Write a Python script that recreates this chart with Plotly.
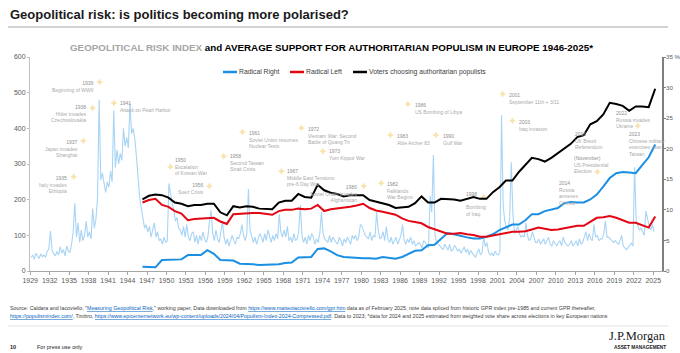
import plotly.graph_objects as go

# ---------------- text ----------------
title_text = "Geopolitical risk: is politics becoming more polarised?"
subtitle_gray = "GEOPOLITICAL RISK INDEX"
subtitle_black = " and AVERAGE SUPPORT FOR AUTHORITARIAN POPULISM IN EUROPE 1946-2025*"
series_names = ["Radical Right", "Radical Left", "Voters choosing authoritarian populists"]

# ---------------- GPR index (quarterly, from 1929 Q1) ----------------
gpr_start_year = 1929
gpr_quarterly = [
    38, 45, 33, 50,      # 1929
    42, 35, 48, 40,      # 1930
    45, 38, 55, 62,      # 1931
    112, 58, 48, 42,     # 1932
    55, 45, 68, 50,      # 1933
    60, 42, 70, 55,      # 1934
    52, 75, 110, 190,    # 1935
    95, 135, 80, 115,    # 1936
    85, 100, 140, 95,    # 1937
    110, 90, 175, 120,   # 1938
    145, 205, 480, 255,  # 1939
    275, 240, 220, 250,  # 1940
    235, 280, 250, 450,  # 1941
    290, 340, 300, 330,  # 1942
    310, 400, 350, 375,  # 1943
    345, 470, 385, 400,  # 1944
    370, 320, 260, 205,  # 1945
    175, 140, 120, 130,  # 1946
    110, 125, 95, 115,   # 1947
    135, 95, 110, 85,    # 1948
    90, 75, 95, 80,      # 1949
    85, 245, 210, 190,   # 1950
    170, 140, 150, 120,  # 1951
    115, 100, 125, 95,   # 1952
    130, 95, 85, 105,    # 1953
    110, 80, 100, 75,    # 1954
    100, 85, 110, 90,    # 1955
    80, 95, 140, 170,    # 1956
    105, 85, 115, 90,    # 1957
    80, 115, 140, 95,    # 1958
    75, 90, 70, 85,      # 1959
    100, 85, 75, 95,     # 1960
    90, 105, 130, 100,   # 1961
    85, 105, 230, 115,   # 1962
    100, 80, 95, 75,     # 1963
    90, 105, 95, 80,     # 1964
    105, 85, 115, 95,    # 1965
    80, 100, 85, 105,    # 1966
    90, 160, 110, 95,    # 1967
    115, 95, 125, 85,    # 1968
    95, 80, 105, 85,     # 1969
    90, 110, 185, 100,   # 1970
    80, 95, 75, 100,     # 1971
    85, 105, 95, 75,     # 1972
    90, 80, 105, 166,    # 1973
    105, 90, 85, 80,     # 1974
    100, 80, 95, 85,     # 1975
    80, 75, 95, 85,      # 1976
    70, 90, 80, 95,      # 1977
    85, 75, 100, 90,     # 1978
    100, 85, 95, 130,    # 1979
    125, 110, 100, 95,   # 1980
    90, 110, 85, 100,    # 1981
    95, 165, 115, 90,    # 1982
    95, 110, 85, 125,    # 1983
    90, 80, 95, 75,      # 1984
    85, 95, 75, 90,      # 1985
    100, 130, 85, 75,    # 1986
    90, 80, 95, 75,      # 1987
    85, 70, 75, 80,      # 1988
    75, 65, 85, 80,      # 1989
    70, 65, 210, 165,    # 1990
    325, 100, 80, 75,    # 1991
    70, 65, 60, 75,      # 1992
    65, 58, 75, 55,      # 1993
    60, 72, 65, 55,      # 1994
    62, 50, 58, 68,      # 1995
    52, 62, 45, 58,      # 1996
    50, 42, 38, 52,      # 1997
    62, 45, 52, 95,      # 1998
    68, 80, 52, 45,      # 1999
    50, 42, 55, 48,      # 2000
    45, 52, 437, 185,    # 2001
    140, 125, 115, 150,  # 2002
    305, 160, 105, 115,  # 2003
    125, 105, 95, 100,   # 2004
    95, 135, 100, 85,    # 2005
    90, 110, 95, 80,     # 2006
    80, 90, 75, 85,      # 2007
    90, 75, 85, 95,      # 2008
    75, 70, 85, 75,      # 2009
    70, 80, 85, 70,      # 2010
    95, 80, 75, 70,      # 2011
    75, 85, 70, 80,      # 2012
    85, 70, 90, 75,      # 2013
    80, 95, 110, 85,     # 2014
    105, 90, 85, 130,    # 2015
    95, 100, 85, 90,     # 2016
    90, 105, 140, 95,    # 2017
    95, 90, 85, 80,      # 2018
    85, 80, 75, 85,      # 2019
    100, 70, 65, 60,     # 2020
    65, 72, 78, 70,      # 2021
    290, 140, 125, 115,  # 2022
    120, 110, 100, 168,  # 2023
    140, 125, 115, 130,  # 2024
    110,                 # 2025
]

# ---------------- Populism support (% , annual 1946-2025) ----------------
pop_years = list(range(1946, 2026))
radical_right = [
    0.7, 0.6, 0.6, 1.8, 1.8, 1.8, 1.9, 2.6, 2.6, 2.6,
    3.4, 2.8, 1.8, 1.8, 1.7, 1.2, 1.2, 1.1, 1.0, 1.0,
    1.0, 1.1, 1.3, 1.4, 2.2, 2.3, 2.3, 3.6, 3.7, 3.2,
    2.6, 2.3, 2.2, 2.2, 2.1, 2.1, 2.0, 2.3, 2.1, 2.0,
    2.3, 2.8, 3.3, 3.4, 4.2, 4.3, 5.3, 6.2, 6.0, 5.7,
    5.5, 5.3, 5.3, 5.6, 6.0, 6.7, 7.2, 7.6, 7.6, 8.3,
    9.3, 9.3, 9.8, 10.0, 10.3, 11.1, 11.3, 11.2, 11.2, 11.7,
    12.5, 13.8, 15.2, 16.0, 16.2, 16.1, 16.0, 17.3, 18.6, 20.7,
]
radical_left = [
    11.2, 11.6, 11.8, 10.8, 10.5, 9.8, 9.4, 8.3, 8.5, 8.6,
    8.6, 8.7, 8.1, 7.7, 9.3, 9.4, 9.5, 9.5, 9.5, 9.3,
    9.2, 9.8, 10.0, 10.0, 10.2, 10.1, 10.2, 10.8, 9.8, 10.1,
    10.2, 10.3, 10.5, 10.7, 11.0, 10.3, 9.9, 9.7, 9.5, 9.2,
    8.6, 8.2, 8.0, 7.8, 7.2, 6.8, 6.4, 6.1, 6.1, 6.2,
    6.0, 5.9, 5.6, 5.6, 5.8, 6.0, 6.3, 6.4, 6.4, 6.5,
    6.8, 7.1, 6.9, 6.7, 6.8, 7.0, 7.2, 7.4, 7.4, 8.0,
    8.7, 8.8, 9.0, 8.7, 8.3, 7.9, 7.9, 7.5, 7.1, 8.9,
]
authoritarian_total = [
    11.7, 12.3, 12.5, 12.4, 12.0, 11.2, 11.0, 10.6, 10.8, 10.8,
    11.0, 11.0, 9.6, 9.1, 10.6, 10.4, 10.6, 10.5, 10.2, 10.1,
    10.1, 11.2, 11.5, 11.5, 12.6, 12.1, 12.0, 14.1, 13.2, 12.8,
    12.6, 12.2, 12.4, 12.4, 12.4, 11.6, 11.3, 11.0, 10.8, 10.3,
    10.4, 10.5, 11.1, 12.2, 11.2, 11.2, 11.8, 11.8, 11.7, 11.5,
    11.8, 12.1, 11.8, 11.8, 12.9, 13.7, 14.8, 14.8, 16.2, 17.3,
    18.5, 18.3, 17.9, 18.5, 19.3, 20.0, 20.8, 21.9, 22.2, 24.0,
    24.5, 25.6, 27.5, 27.3, 27.0, 26.2, 26.9, 26.9, 26.8, 29.8,
]

# ---------------- axis ticks ----------------
x_tick_years = list(range(1929, 2026, 3))
left_ticks = [0, 100, 200, 300, 400, 500, 600]
right_ticks = [0, 5, 10, 15, 20, 25, 30, 35]
right_tick_text = ["0", "5", "10", "15", "20", "25", "30", "35 %"]

# ---------------- events ----------------
event_years = ["1939", "1938", "1941", "1937", "1935", "1950", "1956", "1958", "1961",
               "1967", "1972", "1973", "1980", "1982", "1983", "1986", "1990", "1998",
               "2001", "2003", "2016", "(November)", "2014", "2022", "2023"]
event_texts = ["Beginning of WWII", "Hitler invades<br>Czechoslovakia", "Attack on Pearl Harbor",
               "Japan invades<br>Shanghai", "Italy invades<br>Ethiopia", "Escalation<br>of Korean War",
               "Suez Crisis", "Second Taiwan<br>Strait Crisis", "Soviet Union resumes<br>Nuclear Tests",
               "Middle East Tensions<br>pre-6 Day War", "Vietnam War: Second<br>Battle of Quang Tri",
               "Yom Kippur War", "Soviet Union invades<br>Afghanistan", "Falklands<br>War Begins",
               "Able Archer 83", "US Bombing of Libya", "Gulf War", "<br>Bombing<br>of Iraq",
               "September 11th + 3/11", "Iraq invasion", "UK Brexit<br>Referendum",
               "US Presidential<br>Election", "Russia<br>annexes<br>Crimea", "Russia invades<br>Ukraine",
               "Chinese military<br>exercises near<br>Taiwan"]
# layout positions of event labels (x in years, y in index units) and text offsets (px)
event_pos_x = [1939.7, 1938.6, 1941.9, 1937.2, 1935.7, 1950.6, 1956.6, 1958.8, 1961.7,
               1967.7, 1970.8, 1974.1, 1980.4, 1983.1, 1984.5, 1987.2, 1991.5, 1998.9,
               2001.8, 2003.3, 2012.0, 2016.4, 2009.6, 2022.6, 2020.4]
event_pos_y = [530, 457, 471, 365, 264, 292, 238, 322, 390,
               280, 401, 336, 238, 247, 381, 468, 381, 207,
               496, 421, 387, 278, 250, 407, 387]
event_anchor = ["right", "right", "left", "right", "right", "left", "right", "left", "left",
                "left", "left", "left", "right", "left", "left", "left", "left", "left",
                "left", "left", "left", "left", "left", "left", "left"]
event_dx = [-5, -5, 5, -4, -6, 4, -4, 5, 6, 5, 6, 5, -6, 5, 6, 6, 6, -19, 5, 6, 5, -24, 5, -23, 5]
event_dy = [0, -2, -1, 0, 0, -8, -2, -1, 0, -1, 0, -1, 0, 0, 0, 0, 0, -4, 0, 0, 0, -15, 0, -14, 0]
event_marker = [True] * 20 + [False, True, False, True, False]

# ---------------- geometry helpers ----------------
W, H = 680, 353
PL, PR, PT, PB = 30, 662, 57, 271
FONT = "Liberation Sans, Arial, sans-serif"


def pxx(x):
    return (x - PL) / (PR - PL)


def pxy(y):
    return (PB - y) / (PB - PT)


gpr_x = [gpr_start_year + i / 4 + 0.125 for i in range(len(gpr_quarterly))]
pop_x = [y + 0.3 for y in pop_years]

colors = ["#1a8fe3", "#e30613", "#000000"]
pop_series = [radical_right, radical_left, authoritarian_total]

fig = go.Figure()
fig.add_trace(go.Scatter(x=gpr_x, y=gpr_quarterly, mode="lines",
                         line=dict(color="#a8d4f5", width=1.1), name="GPR",
                         showlegend=False, hoverinfo="skip"))

mx = [x for x, m in zip(event_pos_x, event_marker) if m]
my = [y for y, m in zip(event_pos_y, event_marker) if m]
fig.add_trace(go.Scatter(x=mx, y=my, mode="markers",
                         marker=dict(symbol="star-diamond", size=5, color="#f9e3ad"),
                         showlegend=False, hoverinfo="skip"))

for name, vals, col in zip(series_names, pop_series, colors):
    fig.add_trace(go.Scatter(x=pop_x, y=vals, mode="lines", yaxis="y2",
                             line=dict(color=col, width=2), name=name,
                             showlegend=False, hoverinfo="skip"))

annotations = []
shapes = []

# event labels
for yr, txt, x, y, anc, dx, dy in zip(event_years, event_texts, event_pos_x, event_pos_y,
                                      event_anchor, event_dx, event_dy):
    annotations.append(dict(
        x=x, y=y, xref="x", yref="y", showarrow=False,
        text=f"<span style='color:#8f8f8f'>{yr}</span><br>{txt}",
        xanchor=anc, yanchor="top", align=anc, borderpad=0,
        xshift=dx, yshift=3.3 - dy,
        font=dict(family=FONT, size=5, color="#aaaaaa")))

# title
annotations.append(dict(x=pxx(8), y=pxy(14), xref="paper", yref="paper", showarrow=False,
                        text=f"<b>{title_text}</b>", xanchor="left", yanchor="middle",
                        font=dict(family=FONT, size=13, color="#1a1a1a")))
shapes.append(dict(type="line", xref="paper", yref="paper", x0=pxx(8), x1=pxx(668),
                   y0=pxy(27), y1=pxy(27), line=dict(color="#a6a6a6", width=1)))
# subtitle
annotations.append(dict(x=pxx(68), y=pxy(48), xref="paper", yref="paper", showarrow=False,
                        text=f"<b><span style='color:#a6a6a6'>{subtitle_gray}</span>{subtitle_black}</b>",
                        xanchor="left", yanchor="middle",
                        font=dict(family=FONT, size=9.8, color="#000000")))

# legend (manual)
leg_line_x = [(223, 237), (290, 304), (353, 367)]
for (x0, x1), name, col in zip(leg_line_x, series_names, colors):
    shapes.append(dict(type="line", xref="paper", yref="paper", x0=pxx(x0), x1=pxx(x1),
                       y0=pxy(72), y1=pxy(72), line=dict(color=col, width=2.5)))
    annotations.append(dict(x=pxx(x1 + 1), y=pxy(72), xref="paper", yref="paper",
                            showarrow=False, text=name, xanchor="left", yanchor="middle",
                            borderpad=0, font=dict(family=FONT, size=6.8, color="#404040")))

# footer
link = "<span style='color:#0563c1'><u>{}</u></span>"
src1 = ("Source: Caldara and Iacoviello, \"" + link.format("Measuring Geopolitical Risk") +
        ",\" working paper, Data downloaded from " + link.format("https://www.matteoiacoviello.com/gpr.htm") +
        " data as of February 2025, note data spliced from historic GPR index pre-1985 and current GPR thereafter,")
src2 = (link.format("https://populismindex.com/") + ", Timbro, " +
        link.format("https://www.epicenternetwork.eu/wp-content/uploads/2024/04/Populism-Index-2024-Compressed.pdf") +
        ". Data to 2023; *data for 2024 and 2025 estimated from weighted vote share across elections in key European nations")
annotations.append(dict(x=pxx(8), y=pxy(308), xref="paper", yref="paper", showarrow=False,
                        text=src1, xanchor="left", yanchor="middle",
                        font=dict(family=FONT, size=5.3, color="#404040")))
annotations.append(dict(x=pxx(8), y=pxy(316), xref="paper", yref="paper", showarrow=False,
                        text=src2, xanchor="left", yanchor="middle",
                        font=dict(family=FONT, size=5.3, color="#404040")))
shapes.append(dict(type="line", xref="paper", yref="paper", x0=pxx(8), x1=pxx(668),
                   y0=pxy(326), y1=pxy(326), line=dict(color="#d9d9d9", width=0.8)))
annotations.append(dict(x=pxx(8), y=pxy(347), xref="paper", yref="paper", showarrow=False,
                        text="<b>10</b>", xanchor="left", yanchor="middle",
                        font=dict(family=FONT, size=5.5, color="#1a1a1a")))
annotations.append(dict(x=pxx(35), y=pxy(347), xref="paper", yref="paper", showarrow=False,
                        text="For press use only", xanchor="left", yanchor="middle",
                        font=dict(family=FONT, size=5.5, color="#1a1a1a")))
annotations.append(dict(x=pxx(668), y=pxy(336), xref="paper", yref="paper", showarrow=False,
                        text="J.P.Morgan", xanchor="right", yanchor="middle",
                        font=dict(family="Liberation Serif, Times New Roman, serif", size=12.5,
                                  color="#1a1a1a")))
annotations.append(dict(x=pxx(668), y=pxy(347), xref="paper", yref="paper", showarrow=False,
                        text="<b>ASSET MANAGEMENT</b>", xanchor="right", yanchor="middle",
                        font=dict(family=FONT, size=4.8, color="#1a1a1a")))

fig.update_layout(
    width=W, height=H,
    margin=dict(l=PL, r=W - PR, t=PT, b=H - PB, pad=0),
    paper_bgcolor="white", plot_bgcolor="white",
    showlegend=False,
    font=dict(family=FONT, size=7, color="#595959"),
    xaxis=dict(range=[1928.97, 2026.35], tickmode="array", tickvals=x_tick_years,
               ticktext=[str(t) for t in x_tick_years], ticks="outside", ticklen=3,
               tickcolor="#a6a6a6", showline=True, linecolor="#a6a6a6", linewidth=1,
               showgrid=False, zeroline=False, automargin=False,
               tickfont=dict(size=7, color="#595959")),
    yaxis=dict(range=[0, 600], tickmode="array", tickvals=left_ticks, ticks="outside",
               ticklen=2, tickcolor="#bfbfbf", showline=True, linecolor="#bfbfbf",
               linewidth=1, showgrid=False, zeroline=False, automargin=False,
               tickfont=dict(size=7, color="#595959")),
    yaxis2=dict(range=[0, 35], overlaying="y", side="right", tickmode="array",
                tickvals=right_ticks, ticktext=right_tick_text, ticks="outside", ticklen=2,
                tickcolor="#7f7f7f", showline=True, linecolor="#7f7f7f", linewidth=1.5,
                showgrid=False, zeroline=False, automargin=False,
                ticklabelstandoff=-1,
                tickfont=dict(size=6.2, color="#595959")),
    annotations=annotations,
    shapes=shapes,
)

fig.write_html("out.html", config={"displayModeBar": False})
